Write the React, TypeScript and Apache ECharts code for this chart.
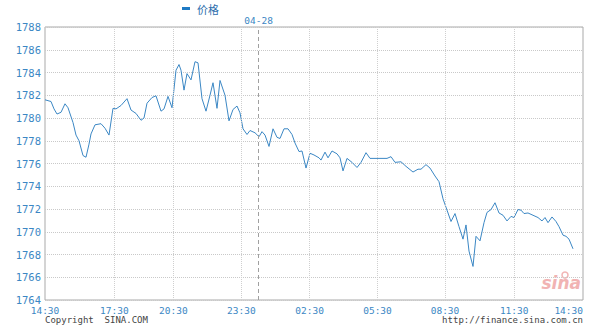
import React, { useEffect, useRef } from "react";
import * as echarts from "echarts";

// ---- data ----
const seriesName = "价格";
const dateLabel = "04-28";
const xMax = 269; // last sample slot of the session (14:30 -> 14:30)
const tickPos = [0, 34.65, 64.2, 98.2, 132.3, 166.25, 200, 234.6, 269];
const tickLabels = ["14:30", "17:30", "20:30", "23:30", "02:30", "05:30", "08:30", "11:30", "14:30"];
const dateDividerPos = 106.8;
const yMin = 1764;
const yMax = 1788;
const yStep = 2;

const sampleIdx = [
  0, 3, 4.5, 6, 8, 10, 11.5, 14, 15.5, 17, 19, 20.5, 22, 23, 25, 28, 30, 32, 34, 35.5,
  38, 41, 43, 45.5, 48, 49.5, 51, 53.5, 55.5, 58, 59.5, 61.5, 63.5, 65.5, 67, 68, 69.5, 71, 73, 75,
  76.5, 78.5, 80.5, 82.5, 84, 86, 87.5, 90, 92, 94, 96, 97.5, 99, 101, 102.5, 105, 107, 108.5, 110, 112,
  114, 116, 117.5, 119.5, 121.5, 123.5, 125, 127, 128.5, 130.5, 132.5, 134.5, 137, 138, 140, 141.5, 143.5, 146, 147.5, 149,
  151, 153.5, 156, 158, 160.5, 162.5, 171, 173, 175, 178, 180.5, 184, 186.5, 188, 190.5, 192.5, 195, 197, 199, 201,
  203, 205, 207, 209, 210.5, 212, 214, 215.5, 217.5, 219.5, 221, 223, 225, 227, 229, 231, 233, 234.5, 236.5, 238,
  239.5, 241.5, 244, 246.5, 248.5, 250, 251.5, 253.5, 255.5, 257, 259, 260.5, 262, 264,
];

const prices = [
  1781.6, 1781.45, 1780.8, 1780.35, 1780.5, 1781.25, 1780.9, 1779.6, 1778.5, 1778.0, 1776.7, 1776.55, 1777.7, 1778.6, 1779.4, 1779.5, 1779.1, 1778.5, 1780.85, 1780.8,
  1781.1, 1781.7, 1780.7, 1780.4, 1779.8, 1780.0, 1781.3, 1781.8, 1781.95, 1780.6, 1780.8, 1781.9, 1780.9, 1784.2, 1784.7, 1784.2, 1782.45, 1783.9, 1783.35, 1784.95,
  1784.85, 1781.7, 1780.6, 1782.0, 1783.1, 1780.85, 1783.3, 1782.0, 1779.75, 1780.75, 1781.05, 1780.45, 1779.05, 1778.55, 1778.9, 1778.7, 1778.35, 1778.8, 1778.5, 1777.5,
  1779.05, 1778.3, 1778.2, 1779.05, 1779.05, 1778.55, 1777.8, 1777.05, 1777.1, 1775.6, 1776.9, 1776.75, 1776.5, 1776.3, 1777.0, 1776.5, 1777.1, 1776.85, 1776.5, 1775.35,
  1776.45, 1776.1, 1775.65, 1776.1, 1776.95, 1776.45, 1776.45, 1776.6, 1776.1, 1776.15, 1775.75, 1775.25, 1775.5, 1775.5, 1775.9, 1775.6, 1774.9, 1774.4, 1772.9, 1771.9,
  1770.9, 1771.6, 1770.45, 1769.35, 1770.6, 1768.3, 1766.95, 1769.6, 1769.2, 1770.8, 1771.7, 1771.95, 1772.55, 1771.65, 1771.45, 1770.95, 1771.35, 1771.25, 1771.95, 1771.9,
  1771.6, 1771.65, 1771.45, 1771.25, 1770.95, 1771.25, 1770.8, 1771.3, 1770.9, 1770.45, 1769.7, 1769.6, 1769.35, 1768.5,
];

const footerLeft = "Copyright  SINA.COM";
const footerRight = "http://finance.sina.com.cn";

const MONO = "'DejaVu Sans Mono', 'Liberation Mono', monospace";
const BLUE = "#3b87c4";

export default function App() {
  const ref = useRef<HTMLDivElement>(null);

  useEffect(() => {
    if (!ref.current) return;
    const chart = echarts.init(ref.current, undefined, { renderer: "svg" });

    const lineData = sampleIdx.map((x, i) => [x, prices[i]]);
    const labelFor = (v: number) => {
      let best = 0;
      for (let i = 1; i < tickPos.length; i++) {
        if (Math.abs(tickPos[i] - v) < Math.abs(tickPos[best] - v)) best = i;
      }
      return tickLabels[best];
    };

    const gridLines = tickPos.slice(1, -1).map((v) => ({ xAxis: v }));

    chart.setOption({
      animation: false,
      backgroundColor: "#ffffff",
      legend: {
        data: [seriesName],
        left: 182,
        top: 3,
        padding: 0,
        itemWidth: 8,
        itemHeight: 3,
        icon: "rect",
        textStyle: { fontSize: 11, color: "#2f6fad", padding: [0, 0, 0, 2], fontFamily: "'Noto Sans CJK SC', sans-serif" },
      },
      grid: {
        left: 45,
        right: 17,
        top: 27,
        bottom: 27,
        show: true,
        borderColor: "#a9a9a9",
        borderWidth: 1,
        backgroundColor: "transparent",
      },
      xAxis: {
        type: "value",
        min: 0,
        max: xMax,
        axisLine: { show: false },
        axisTick: { show: false, customValues: tickPos },
        splitLine: { show: false },
        axisLabel: {
          customValues: tickPos,
          formatter: (v: number) => labelFor(v),
          color: BLUE,
          fontFamily: MONO,
          fontSize: 9.5,
          margin: 5,
          showMinLabel: true,
          showMaxLabel: true,
          alignMaxLabel: "right",
        },
      },
      yAxis: {
        type: "value",
        min: yMin,
        max: yMax,
        interval: yStep,
        axisLine: { show: false },
        axisTick: { show: false },
        splitLine: { show: true, lineStyle: { color: "#c9c9c9", type: "dotted", width: 1 } },
        axisLabel: {
          color: BLUE,
          fontFamily: MONO,
          fontSize: 10.5,
          margin: 4,
          formatter: (v: number) => String(v),
        },
      },
      series: [
        {
          name: "grid",
          type: "line",
          data: [],
          z: 1,
          silent: true,
          markLine: {
            silent: true,
            symbol: ["none", "none"],
            animation: false,
            label: { show: false },
            lineStyle: { color: "#cfcfcf", type: "dotted", width: 1 },
            emphasis: { disabled: true },
            data: [
              ...gridLines,
              {
                xAxis: dateDividerPos,
                lineStyle: { color: "#a0a0a0", type: [4, 3], width: 1 },
                label: {
                  show: true,
                  position: "end",
                  distance: 2,
                  formatter: dateLabel,
                  color: BLUE,
                  fontFamily: MONO,
                  fontSize: 9.5,
                },
              },
            ],
          },
        },
        {
          name: seriesName,
          type: "line",
          data: lineData,
          z: 3,
          symbol: "none",
          showSymbol: false,
          lineStyle: { color: BLUE, width: 1 },
          itemStyle: { color: "#1e7ac4" },
        },
      ],
      graphic: [
        {
          type: "text",
          left: 45,
          top: 315,
          style: { text: footerLeft, fill: "#444444", font: `9px ${MONO}` },
        },
        {
          type: "text",
          right: 17,
          top: 315,
          style: { text: footerRight, fill: "#444444", font: `9px ${MONO}` },
        },
        {
          type: "text",
          right: 19,
          top: 274,
          z: 0,
          style: {
            text: "sina",
            fill: "#f1b3b3",
            font: `italic bold 17px 'DejaVu Sans', sans-serif`,
          },
        },
        {
          type: "circle",
          shape: { cx: 565, cy: 275, r: 3 },
          z: 0,
          style: { fill: "none", stroke: "#f1b3b3", lineWidth: 1.5 },
        },
      ],
    });

    return () => chart.dispose();
  }, []);

  return (
    <div
      ref={ref}
      style={{ position: "fixed", left: 0, top: 0, width: 600, height: 327, background: "#fff" }}
    />
  );
}
